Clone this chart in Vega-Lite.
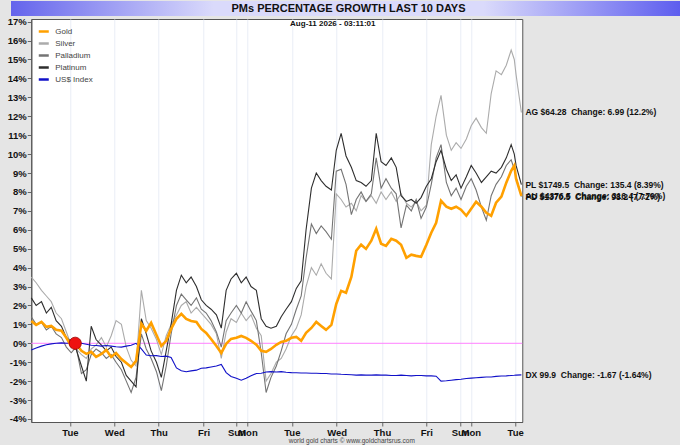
{
  "$schema": "https://vega.github.io/schema/vega-lite/v6.json",
  "background": "#e5e5e5",
  "padding": {"left": 2, "top": 1, "right": 0, "bottom": 0},
  "config": {"font": "Liberation Sans", "view": {"stroke": null}},
  "spacing": 0,
  "columns": 1,
  "center": true,
  "resolve": {"scale": {"color": "independent"}, "legend": {"color": "independent"}},
  "datasets": {
    "prices": [
      {"t": 0.00, "Gold": 1.18, "Silver": 3.5, "Palladium": 1.4, "Platinum": 2.4, "US$ Index": -0.35},
      {"t": 0.11, "Gold": 0.97, "Silver": 3.2, "Palladium": 1.0, "Platinum": 2.0, "US$ Index": -0.25},
      {"t": 0.23, "Gold": 1.13, "Silver": 2.8, "Palladium": 1.1, "Platinum": 2.2, "US$ Index": -0.15},
      {"t": 0.34, "Gold": 0.87, "Silver": 2.5, "Palladium": 0.7, "Platinum": 1.6, "US$ Index": -0.08},
      {"t": 0.45, "Gold": 0.92, "Silver": 2.2, "Palladium": 0.9, "Platinum": 1.9, "US$ Index": -0.03},
      {"t": 0.56, "Gold": 0.71, "Silver": 1.6, "Palladium": 0.5, "Platinum": 1.2, "US$ Index": 0.0},
      {"t": 0.68, "Gold": 0.66, "Silver": 1.3, "Palladium": 0.3, "Platinum": 0.9, "US$ Index": 0.02},
      {"t": 0.79, "Gold": 0.29, "Silver": 0.6, "Palladium": -0.2, "Platinum": 0.3, "US$ Index": 0.0},
      {"t": 0.90, "Gold": -0.14, "Silver": -0.1, "Palladium": -0.5, "Platinum": 0.1, "US$ Index": 0.02},
      {"t": 1.01, "Gold": -0.03, "Silver": -0.3, "Palladium": -0.2, "Platinum": -0.3, "US$ Index": 0.0},
      {"t": 1.13, "Gold": -0.40, "Silver": -0.6, "Palladium": -1.6, "Platinum": -1.2, "US$ Index": 0.0},
      {"t": 1.24, "Gold": -0.56, "Silver": -0.8, "Palladium": -1.4, "Platinum": -2.0, "US$ Index": -0.05},
      {"t": 1.35, "Gold": -0.45, "Silver": -0.3, "Palladium": -0.6, "Platinum": 0.9, "US$ Index": -0.1},
      {"t": 1.46, "Gold": -0.72, "Silver": -0.1, "Palladium": -0.3, "Platinum": 0.2, "US$ Index": -0.12},
      {"t": 1.58, "Gold": -0.56, "Silver": 0.3, "Palladium": -0.5, "Platinum": -0.1, "US$ Index": -0.15},
      {"t": 1.69, "Gold": -0.35, "Silver": -0.2, "Palladium": -0.8, "Platinum": -0.4, "US$ Index": -0.12},
      {"t": 1.80, "Gold": -0.72, "Silver": 0.4, "Palladium": -0.6, "Platinum": -0.2, "US$ Index": -0.15},
      {"t": 1.91, "Gold": -0.51, "Silver": 1.2, "Palladium": -1.0, "Platinum": -0.7, "US$ Index": -0.18},
      {"t": 2.03, "Gold": -0.83, "Silver": 1.0, "Palladium": -1.4, "Platinum": -1.0, "US$ Index": -0.2},
      {"t": 2.14, "Gold": -1.04, "Silver": -0.2, "Palladium": -2.0, "Platinum": -1.7, "US$ Index": -0.15},
      {"t": 2.25, "Gold": -1.25, "Silver": -0.9, "Palladium": -2.6, "Platinum": -2.0, "US$ Index": -0.1},
      {"t": 2.36, "Gold": -0.93, "Silver": -1.2, "Palladium": -1.8, "Platinum": -2.3, "US$ Index": 0.0},
      {"t": 2.48, "Gold": 1.03, "Silver": 2.8, "Palladium": 0.5, "Platinum": 1.3, "US$ Index": -0.3},
      {"t": 2.59, "Gold": 0.66, "Silver": 1.2, "Palladium": -0.3, "Platinum": 0.5, "US$ Index": -0.62},
      {"t": 2.70, "Gold": 1.08, "Silver": 0.8, "Palladium": -0.8, "Platinum": -0.4, "US$ Index": -0.66},
      {"t": 2.82, "Gold": 0.44, "Silver": 0.2, "Palladium": -1.5, "Platinum": -1.0, "US$ Index": -0.65},
      {"t": 2.93, "Gold": -0.14, "Silver": -0.6, "Palladium": -2.5, "Platinum": -1.8, "US$ Index": -0.7},
      {"t": 3.04, "Gold": 0.13, "Silver": 0.4, "Palladium": -1.2, "Platinum": -0.4, "US$ Index": -0.68},
      {"t": 3.15, "Gold": 0.76, "Silver": 1.0, "Palladium": 0.5, "Platinum": 1.0, "US$ Index": -0.75},
      {"t": 3.27, "Gold": 1.29, "Silver": 1.5, "Palladium": 2.0, "Platinum": 2.8, "US$ Index": -1.3},
      {"t": 3.38, "Gold": 1.56, "Silver": 2.0, "Palladium": 2.6, "Platinum": 3.6, "US$ Index": -1.45},
      {"t": 3.49, "Gold": 1.29, "Silver": 2.2, "Palladium": 2.3, "Platinum": 3.2, "US$ Index": -1.5},
      {"t": 3.60, "Gold": 1.18, "Silver": 1.6, "Palladium": 2.0, "Platinum": 3.5, "US$ Index": -1.46},
      {"t": 3.72, "Gold": 1.13, "Silver": 1.9, "Palladium": 2.4, "Platinum": 3.0, "US$ Index": -1.42},
      {"t": 3.83, "Gold": 0.76, "Silver": 1.6, "Palladium": 1.8, "Platinum": 2.3, "US$ Index": -1.32},
      {"t": 3.94, "Gold": 0.55, "Silver": 1.3, "Palladium": 1.6, "Platinum": 2.0, "US$ Index": -1.3},
      {"t": 4.05, "Gold": 0.23, "Silver": 1.0, "Palladium": 1.2, "Platinum": 1.8, "US$ Index": -1.25},
      {"t": 4.17, "Gold": -0.14, "Silver": 0.5, "Palladium": 0.6, "Platinum": 1.5, "US$ Index": -1.2},
      {"t": 4.28, "Gold": -0.51, "Silver": -0.8, "Palladium": -0.2, "Platinum": 0.8, "US$ Index": -1.12},
      {"t": 4.39, "Gold": -0.03, "Silver": 0.6, "Palladium": 1.2, "Platinum": 2.8, "US$ Index": -1.55},
      {"t": 4.50, "Gold": 0.23, "Silver": 1.3, "Palladium": 1.6, "Platinum": 3.4, "US$ Index": -1.75},
      {"t": 4.62, "Gold": 0.29, "Silver": 1.1, "Palladium": 2.0, "Platinum": 3.7, "US$ Index": -1.85},
      {"t": 4.73, "Gold": 0.39, "Silver": 1.6, "Palladium": 1.6, "Platinum": 3.2, "US$ Index": -1.95},
      {"t": 4.84, "Gold": 0.29, "Silver": 1.2, "Palladium": 2.2, "Platinum": 3.5, "US$ Index": -1.85},
      {"t": 4.95, "Gold": 0.13, "Silver": 1.5, "Palladium": 1.7, "Platinum": 3.0, "US$ Index": -1.72},
      {"t": 5.07, "Gold": -0.08, "Silver": 0.8, "Palladium": 1.2, "Platinum": 2.8, "US$ Index": -1.6},
      {"t": 5.18, "Gold": -0.40, "Silver": 0.4, "Palladium": -0.5, "Platinum": 1.3, "US$ Index": -1.58},
      {"t": 5.29, "Gold": -0.45, "Silver": -2.0, "Palladium": -2.6, "Platinum": 0.9, "US$ Index": -1.52},
      {"t": 5.40, "Gold": -0.30, "Silver": -1.6, "Palladium": -1.8, "Platinum": 0.8, "US$ Index": -1.5},
      {"t": 5.52, "Gold": -0.08, "Silver": -1.0, "Palladium": -1.2, "Platinum": 0.9, "US$ Index": -1.52},
      {"t": 5.63, "Gold": 0.07, "Silver": -0.8, "Palladium": -0.4, "Platinum": 1.4, "US$ Index": -1.5},
      {"t": 5.74, "Gold": 0.13, "Silver": -0.3, "Palladium": 0.5, "Platinum": 1.8, "US$ Index": -1.53},
      {"t": 5.86, "Gold": 0.29, "Silver": 0.4, "Palladium": 1.0, "Platinum": 2.2, "US$ Index": -1.55},
      {"t": 5.97, "Gold": 0.34, "Silver": 0.8, "Palladium": 1.8, "Platinum": 2.9, "US$ Index": -1.56},
      {"t": 6.08, "Gold": 0.13, "Silver": 1.5, "Palladium": 2.5, "Platinum": 3.3, "US$ Index": -1.57},
      {"t": 6.19, "Gold": 0.55, "Silver": 3.0, "Palladium": 4.5, "Platinum": 6.0, "US$ Index": -1.57},
      {"t": 6.31, "Gold": 0.81, "Silver": 4.0, "Palladium": 6.3, "Platinum": 8.2, "US$ Index": -1.58},
      {"t": 6.42, "Gold": 1.13, "Silver": 3.6, "Palladium": 5.8, "Platinum": 9.0, "US$ Index": -1.58},
      {"t": 6.53, "Gold": 0.92, "Silver": 4.2, "Palladium": 6.2, "Platinum": 8.6, "US$ Index": -1.6},
      {"t": 6.64, "Gold": 0.71, "Silver": 3.7, "Palladium": 5.9, "Platinum": 8.3, "US$ Index": -1.6},
      {"t": 6.76, "Gold": 0.97, "Silver": 3.4, "Palladium": 5.5, "Platinum": 8.1, "US$ Index": -1.62},
      {"t": 6.87, "Gold": 2.08, "Silver": 7.9, "Palladium": 9.1, "Platinum": 10.2, "US$ Index": -1.62},
      {"t": 6.98, "Gold": 2.77, "Silver": 7.6, "Palladium": 9.2, "Platinum": 11.1, "US$ Index": -1.64},
      {"t": 7.09, "Gold": 2.67, "Silver": 7.2, "Palladium": 8.4, "Platinum": 9.9, "US$ Index": -1.65},
      {"t": 7.21, "Gold": 3.51, "Silver": 7.4, "Palladium": 6.8, "Platinum": 9.3, "US$ Index": -1.66},
      {"t": 7.32, "Gold": 4.89, "Silver": 7.0, "Palladium": 7.6, "Platinum": 8.6, "US$ Index": -1.68},
      {"t": 7.43, "Gold": 5.21, "Silver": 7.8, "Palladium": 8.0, "Platinum": 8.5, "US$ Index": -1.67},
      {"t": 7.54, "Gold": 4.99, "Silver": 7.5, "Palladium": 7.5, "Platinum": 8.3, "US$ Index": -1.68},
      {"t": 7.66, "Gold": 5.42, "Silver": 7.8, "Palladium": 7.9, "Platinum": 8.6, "US$ Index": -1.68},
      {"t": 7.77, "Gold": 6.05, "Silver": 7.4, "Palladium": 9.8, "Platinum": 11.1, "US$ Index": -1.67},
      {"t": 7.88, "Gold": 5.26, "Silver": 8.0, "Palladium": 8.2, "Platinum": 9.6, "US$ Index": -1.68},
      {"t": 7.99, "Gold": 5.15, "Silver": 7.6, "Palladium": 8.7, "Platinum": 9.4, "US$ Index": -1.68},
      {"t": 8.11, "Gold": 5.52, "Silver": 8.0, "Palladium": 8.2, "Platinum": 9.8, "US$ Index": -1.7},
      {"t": 8.22, "Gold": 5.42, "Silver": 7.5, "Palladium": 7.9, "Platinum": 9.3, "US$ Index": -1.7},
      {"t": 8.33, "Gold": 5.21, "Silver": 7.9, "Palladium": 6.1, "Platinum": 7.8, "US$ Index": -1.68},
      {"t": 8.45, "Gold": 4.52, "Silver": 7.4, "Palladium": 7.3, "Platinum": 7.5, "US$ Index": -1.7},
      {"t": 8.56, "Gold": 4.68, "Silver": 7.2, "Palladium": 7.0, "Platinum": 7.6, "US$ Index": -1.72},
      {"t": 8.67, "Gold": 4.62, "Silver": 7.5, "Palladium": 7.6, "Platinum": 7.4, "US$ Index": -1.7},
      {"t": 8.78, "Gold": 4.57, "Silver": 7.0, "Palladium": 6.6, "Platinum": 7.7, "US$ Index": -1.7},
      {"t": 8.90, "Gold": 5.21, "Silver": 7.3, "Palladium": 7.2, "Platinum": 8.3, "US$ Index": -1.72},
      {"t": 9.01, "Gold": 5.84, "Silver": 10.5, "Palladium": 8.4, "Platinum": 8.7, "US$ Index": -1.72},
      {"t": 9.12, "Gold": 6.37, "Silver": 12.0, "Palladium": 9.8, "Platinum": 9.6, "US$ Index": -1.74},
      {"t": 9.23, "Gold": 7.53, "Silver": 13.1, "Palladium": 10.5, "Platinum": 10.2, "US$ Index": -2.0},
      {"t": 9.35, "Gold": 7.22, "Silver": 11.0, "Palladium": 8.5, "Platinum": 9.2, "US$ Index": -1.98},
      {"t": 9.46, "Gold": 7.11, "Silver": 10.2, "Palladium": 7.8, "Platinum": 8.6, "US$ Index": -1.95},
      {"t": 9.57, "Gold": 7.22, "Silver": 10.6, "Palladium": 8.2, "Platinum": 8.9, "US$ Index": -1.92},
      {"t": 9.68, "Gold": 7.06, "Silver": 10.3, "Palladium": 7.6, "Platinum": 8.2, "US$ Index": -1.9},
      {"t": 9.80, "Gold": 6.74, "Silver": 10.8, "Palladium": 8.3, "Platinum": 8.8, "US$ Index": -1.86},
      {"t": 9.91, "Gold": 7.11, "Silver": 11.5, "Palladium": 8.7, "Platinum": 9.4, "US$ Index": -1.84},
      {"t": 10.02, "Gold": 7.48, "Silver": 11.9, "Palladium": 8.1, "Platinum": 9.0, "US$ Index": -1.82},
      {"t": 10.14, "Gold": 7.22, "Silver": 11.4, "Palladium": 7.2, "Platinum": 8.5, "US$ Index": -1.8},
      {"t": 10.25, "Gold": 6.90, "Silver": 11.1, "Palladium": 6.5, "Platinum": 8.8, "US$ Index": -1.78},
      {"t": 10.36, "Gold": 6.74, "Silver": 13.2, "Palladium": 7.8, "Platinum": 9.1, "US$ Index": -1.78},
      {"t": 10.47, "Gold": 7.43, "Silver": 14.4, "Palladium": 8.4, "Platinum": 9.0, "US$ Index": -1.75},
      {"t": 10.59, "Gold": 7.75, "Silver": 14.2, "Palladium": 8.8, "Platinum": 9.3, "US$ Index": -1.73},
      {"t": 10.70, "Gold": 8.49, "Silver": 14.7, "Palladium": 9.4, "Platinum": 9.8, "US$ Index": -1.72},
      {"t": 10.81, "Gold": 9.12, "Silver": 15.5, "Palladium": 9.7, "Platinum": 10.5, "US$ Index": -1.7},
      {"t": 10.88, "Gold": 9.39, "Silver": 15.0, "Palladium": 9.2, "Platinum": 10.0, "US$ Index": -1.69},
      {"t": 10.92, "Gold": 8.70, "Silver": 14.2, "Palladium": 8.8, "Platinum": 9.4, "US$ Index": -1.68},
      {"t": 11.04, "Gold": 7.79, "Silver": 12.2, "Palladium": 7.75, "Platinum": 8.39, "US$ Index": -1.67}
    ],
    "ends": [
      {"t": 11.04, "v": 12.2, "label": "AG $64.28\u00a0 Change: 6.99 (12.2%)"},
      {"t": 11.04, "v": 8.39, "label": "PL $1749.5\u00a0 Change: 135.4 (8.39%)"},
      {"t": 11.04, "v": 7.72, "label": "PD $1370.5\u00a0 Change: 98.2 (7.72%)"},
      {"t": 11.04, "v": 7.79, "label": "AU $4376.5\u00a0 Change: 316.4 (7.79%)"},
      {"t": 11.04, "v": -1.67, "label": "DX 99.9\u00a0 Change: -1.67 (-1.64%)"}
    ]
  },
  "concat": [
    {
      "width": 675,
      "height": 15,
      "data": {"values": [{"title": "PMs PERCENTAGE GROWTH LAST 10 DAYS"}]},
      "layer": [
        {
          "mark": {
            "type": "rect",
            "cornerRadiusTopRight": 6,
            "color": {
              "gradient": "linear", "x1": 0, "x2": 1, "y1": 0, "y2": 0,
              "stops": [
                {"offset": 0, "color": "#6464ec"},
                {"offset": 0.3, "color": "#dadafb"},
                {"offset": 0.7, "color": "#dadafb"},
                {"offset": 1, "color": "#5a5aee"}
              ]
            }
          },
          "encoding": {}
        },
        {
          "mark": {"type": "text", "fontSize": 11, "fontWeight": "bold", "color": "#111111"},
          "encoding": {"text": {"field": "title"}}
        }
      ]
    },
    {
      "width": 491,
      "height": 403,
      "view": {"fill": "white", "stroke": "#555555", "strokeWidth": 1},
      "title": {"text": "Aug-11  2026 - 03:11:01", "fontSize": 8, "fontWeight": "bold", "color": "#111111", "anchor": "middle", "offset": -11, "dx": 56},
      "layer": [
        {
          "data": {"values": [{}]},
          "mark": {"type": "rule", "color": "#ff80ff", "strokeWidth": 1},
          "encoding": {"y": {"datum": 0, "type": "quantitative", "scale": {"domain": [-4.16, 17.14], "nice": false},
              "axis": {"title": "\u00a0", "titleFontSize": 2, "titlePadding": 2.7, "values": [-4, -3, -2, -1, 0, 1, 2, 3, 4, 5, 6, 7, 8, 9, 10, 11, 12, 13, 14, 15, 16, 17], "tickCount": 40,
                "labelExpr": "datum.value + '%'", "labelOverlap": false, "labelFlush": false, "labelFontSize": 9.5, "labelFontWeight": "bold", "labelColor": "#111111", "labelPadding": 1,
                "tickSize": 4, "tickColor": "#666666", "domainColor": "#555555", "gridColor": "#e9edf6"}}}
        },
        {
          "data": {"name": "prices"},
          "transform": [{"fold": ["Silver", "Palladium", "Platinum", "US$ Index"], "as": ["series", "v"]}],
          "mark": {"type": "line", "strokeWidth": 1.1},
          "encoding": {
            "x": {"field": "t", "type": "quantitative", "scale": {"domain": [0, 11.06], "nice": false, "zero": false},
              "axis": {"title": "world gold charts © www.goldchartsrus.com", "titleFontSize": 6.5, "titleFontWeight": "normal", "titleColor": "#444444", "titlePadding": 1, "titleX": 320,
                "values": [0.87, 1.87, 2.87, 3.88, 4.62, 4.87, 5.87, 6.88, 7.9, 8.9, 9.66, 9.9, 10.9], "tickCount": 30,
                "labelExpr": "datum.value < 1 ? 'Tue' : datum.value < 2 ? 'Wed' : datum.value < 3 ? 'Thu' : datum.value < 4 ? 'Fri' : datum.value < 4.7 ? 'Sun' : datum.value < 5 ? 'Mon' : datum.value < 6 ? 'Tue' : datum.value < 7 ? 'Wed' : datum.value < 8 ? 'Thu' : datum.value < 9 ? 'Fri' : datum.value < 9.7 ? 'Sun' : datum.value < 10 ? 'Mon' : 'Tue'",
                "labelOverlap": false, "labelFlush": false, "labelFontSize": 9.5, "labelFontWeight": "bold", "labelColor": "#111111", "labelPadding": 1,
                "tickSize": 4, "tickColor": "#666666", "domainColor": "#555555", "gridColor": "#e9edf6"}},
            "y": {"field": "v", "type": "quantitative", "scale": {"domain": [-4.16, 17.14], "nice": false},
              "axis": {"title": "\u00a0", "titleFontSize": 2, "titlePadding": 2.7, "values": [-4, -3, -2, -1, 0, 1, 2, 3, 4, 5, 6, 7, 8, 9, 10, 11, 12, 13, 14, 15, 16, 17], "tickCount": 40,
                "labelExpr": "datum.value + '%'", "labelOverlap": false, "labelFlush": false, "labelFontSize": 9.5, "labelFontWeight": "bold", "labelColor": "#111111", "labelPadding": 1,
                "tickSize": 4, "tickColor": "#666666", "domainColor": "#555555", "gridColor": "#e9edf6"}},
            "color": {"field": "series", "type": "nominal",
              "scale": {"domain": ["Gold", "Silver", "Palladium", "Platinum", "US$ Index"], "range": ["#ffa000", "#ababab", "#747474", "#2e2e2e", "#1010c8"]},
              "legend": {"title": null, "orient": "top-left", "offset": 6, "symbolType": "stroke", "symbolStrokeWidth": 2.5, "symbolSize": 100,
                "labelFontSize": 8, "labelColor": "#444444", "labelOffset": 5, "rowPadding": -1.8, "padding": 0}}
          }
        },
        {
          "data": {"name": "prices"},
          "transform": [{"fold": ["Gold"], "as": ["series", "v"]}],
          "mark": {"type": "line", "strokeWidth": 2.6},
          "encoding": {
            "x": {"field": "t", "type": "quantitative"},
            "y": {"field": "v", "type": "quantitative"},
            "color": {"field": "series", "type": "nominal"}
          }
        },
        {
          "data": {"values": [{}]},
          "mark": {"type": "point", "filled": true, "color": "#ee1111", "stroke": "#990000", "strokeWidth": 0.8, "size": 150, "opacity": 1},
          "encoding": {"x": {"datum": 0.99, "type": "quantitative"}, "y": {"datum": 0, "type": "quantitative"}}
        },
        {
          "data": {"name": "ends"},
          "mark": {"type": "text", "align": "left", "baseline": "middle", "dx": 4, "fontSize": 8.5, "fontWeight": "bold", "color": "#111111"},
          "encoding": {
            "x": {"field": "t", "type": "quantitative"},
            "y": {"field": "v", "type": "quantitative"},
            "text": {"field": "label"}
          }
        }
      ]
    }
  ]
}
